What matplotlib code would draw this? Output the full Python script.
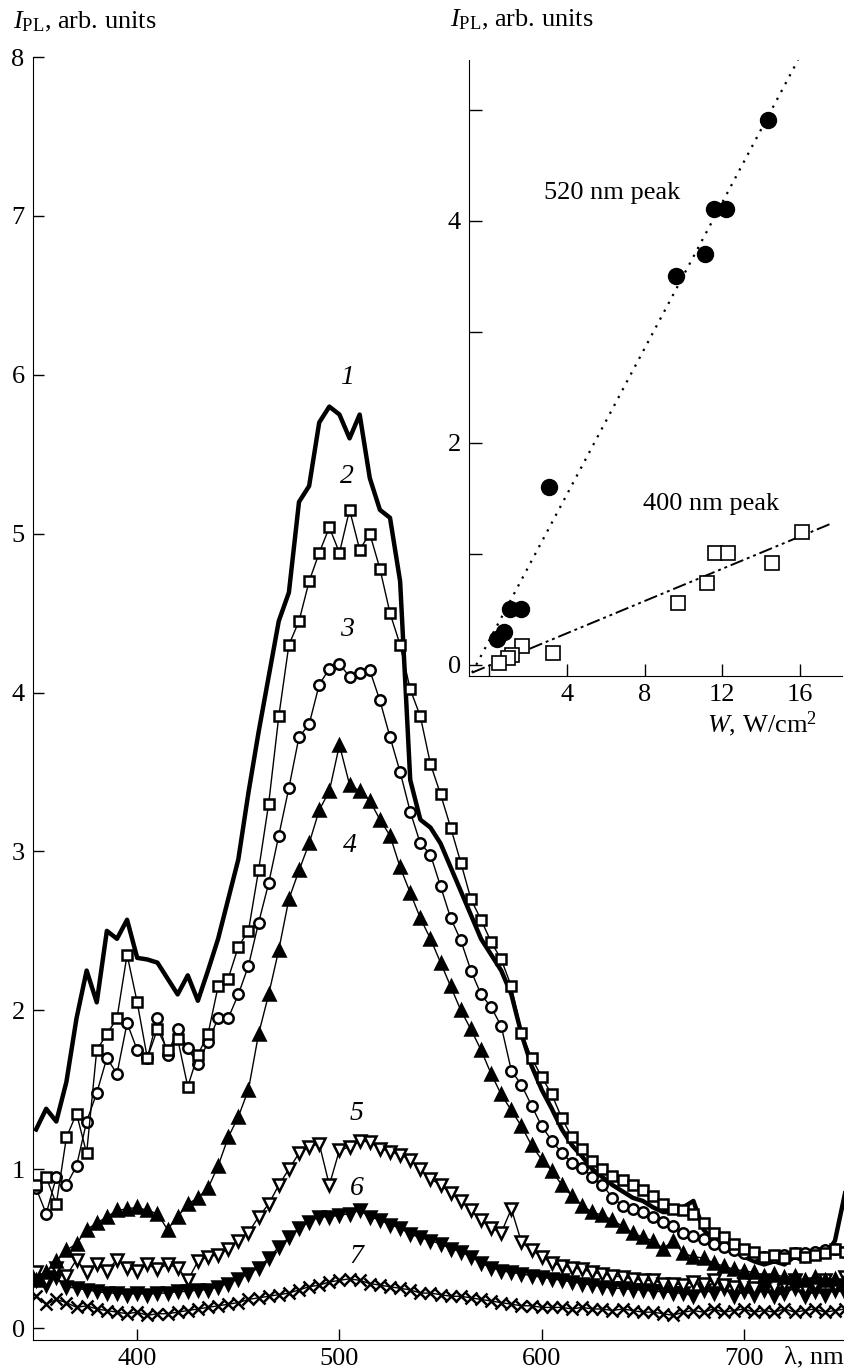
import numpy as np
from matplotlib import pyplot as plt

plt.rcParams['font.family'] = ['Liberation Serif', 'DejaVu Serif']
plt.rcParams['mathtext.fontset'] = 'custom'
plt.rcParams['mathtext.rm'] = 'Liberation Serif'
plt.rcParams['mathtext.it'] = 'Liberation Serif:italic'

# wavelength grid, nm (350 ... 750 every 5 nm)
wavelength = np.arange(350, 751, 5)

# PL spectra, arb. units
spec1 = [1.25, 1.38, 1.30, 1.55, 1.95, 2.25, 2.05, 2.50, 2.45, 2.57,
         2.33, 2.32, 2.30, 2.20, 2.10, 2.22, 2.06, 2.25, 2.45, 2.70,
         2.95, 3.37, 3.75, 4.10, 4.45, 4.63, 5.20, 5.30, 5.70, 5.80,
         5.75, 5.60, 5.75, 5.35, 5.15, 5.10, 4.70, 3.45, 3.20, 3.15,
         3.05, 2.90, 2.75, 2.60, 2.45, 2.35, 2.25, 2.10, 1.85, 1.65,
         1.50, 1.38, 1.25, 1.15, 1.08, 1.00, 0.95, 0.90, 0.86, 0.82,
         0.80, 0.76, 0.73, 0.73, 0.76, 0.80, 0.62, 0.55, 0.50, 0.48,
         0.45, 0.42, 0.40, 0.42, 0.40, 0.45, 0.42, 0.50, 0.45, 0.55,
         0.85]
spec2 = [0.90, 0.95, 0.78, 1.20, 1.35, 1.10, 1.75, 1.85, 1.95, 2.35,
         2.05, 1.70, 1.88, 1.75, 1.82, 1.52, 1.72, 1.85, 2.15, 2.20,
         2.40, 2.50, 2.88, 3.30, 3.85, 4.30, 4.45, 4.70, 4.88, 5.04,
         4.88, 5.15, 4.90, 5.00, 4.78, 4.50, 4.30, 4.02, 3.85, 3.55,
         3.36, 3.15, 2.93, 2.70, 2.57, 2.43, 2.32, 2.15, 1.86, 1.70,
         1.58, 1.47, 1.32, 1.20, 1.13, 1.05, 1.00, 0.96, 0.93, 0.90,
         0.87, 0.83, 0.78, 0.75, 0.74, 0.72, 0.66, 0.60, 0.57, 0.53,
         0.50, 0.48, 0.45, 0.46, 0.44, 0.47, 0.45, 0.46, 0.47, 0.50,
         0.48]
spec3 = [0.88, 0.72, 0.95, 0.90, 1.02, 1.30, 1.48, 1.70, 1.60, 1.92,
         1.75, 1.70, 1.95, 1.72, 1.88, 1.76, 1.66, 1.80, 1.95, 1.95,
         2.10, 2.28, 2.55, 2.80, 3.10, 3.40, 3.72, 3.80, 4.05, 4.15,
         4.18, 4.10, 4.12, 4.14, 3.95, 3.72, 3.50, 3.25, 3.05, 2.98,
         2.78, 2.58, 2.44, 2.25, 2.10, 2.02, 1.90, 1.62, 1.53, 1.40,
         1.27, 1.18, 1.10, 1.04, 1.01, 0.95, 0.90, 0.82, 0.77, 0.75,
         0.73, 0.70, 0.67, 0.64, 0.60, 0.58, 0.56, 0.53, 0.51, 0.49,
         0.47, 0.46, 0.45, 0.45, 0.46, 0.47, 0.47, 0.48, 0.49, 0.50,
         0.48]
spec4 = [0.30, 0.35, 0.42, 0.49, 0.53, 0.62, 0.66, 0.70, 0.74, 0.75,
         0.76, 0.74, 0.72, 0.62, 0.70, 0.78, 0.82, 0.88, 1.02, 1.20,
         1.33, 1.50, 1.85, 2.10, 2.38, 2.70, 2.88, 3.05, 3.26, 3.38,
         3.67, 3.42, 3.38, 3.32, 3.20, 3.10, 2.90, 2.74, 2.58, 2.45,
         2.30, 2.15, 2.00, 1.88, 1.75, 1.60, 1.47, 1.37, 1.27, 1.15,
         1.06, 0.99, 0.90, 0.83, 0.77, 0.73, 0.71, 0.68, 0.64, 0.60,
         0.57, 0.55, 0.50, 0.55, 0.47, 0.45, 0.44, 0.41, 0.39, 0.37,
         0.36, 0.35, 0.33, 0.34, 0.32, 0.33, 0.30, 0.32, 0.30, 0.31,
         0.30]
spec5 = [0.35, 0.30, 0.38, 0.33, 0.43, 0.35, 0.40, 0.36, 0.43, 0.38,
         0.36, 0.40, 0.37, 0.40, 0.38, 0.30, 0.42, 0.45, 0.46, 0.50,
         0.55, 0.60, 0.70, 0.78, 0.90, 1.00, 1.10, 1.14, 1.16, 0.90,
         1.12, 1.14, 1.18, 1.17, 1.13, 1.11, 1.09, 1.06, 1.00, 0.94,
         0.90, 0.85, 0.80, 0.74, 0.68, 0.63, 0.60, 0.75, 0.54, 0.49,
         0.45, 0.41, 0.39, 0.38, 0.37, 0.35, 0.34, 0.33, 0.32, 0.31,
         0.30, 0.30, 0.28, 0.28, 0.27, 0.29, 0.28, 0.30, 0.27, 0.26,
         0.28, 0.25, 0.30, 0.26, 0.28, 0.30, 0.25, 0.28, 0.30, 0.27,
         0.32]
spec6 = [0.30, 0.27, 0.32, 0.26, 0.25, 0.24, 0.23, 0.22, 0.22, 0.21,
         0.22, 0.21, 0.22, 0.22, 0.23, 0.23, 0.24, 0.24, 0.26, 0.28,
         0.31, 0.34, 0.38, 0.44, 0.51, 0.57, 0.63, 0.67, 0.70, 0.70,
         0.71, 0.72, 0.74, 0.70, 0.68, 0.65, 0.63, 0.59, 0.57, 0.55,
         0.53, 0.50, 0.48, 0.45, 0.41, 0.38, 0.36, 0.35, 0.34, 0.33,
         0.32, 0.31, 0.30, 0.29, 0.28, 0.27, 0.26, 0.25, 0.25, 0.24,
         0.24, 0.23, 0.23, 0.22, 0.22, 0.20, 0.24, 0.22, 0.25, 0.20,
         0.23, 0.21, 0.24, 0.20, 0.22, 0.25, 0.20, 0.23, 0.21, 0.24,
         0.22]
spec7 = [0.20, 0.15, 0.18, 0.16, 0.13, 0.14, 0.12, 0.11, 0.10, 0.09,
         0.10, 0.08, 0.09, 0.09, 0.10, 0.11, 0.12, 0.13, 0.14, 0.15,
         0.16, 0.18, 0.19, 0.20, 0.21, 0.22, 0.24, 0.26, 0.27, 0.29,
         0.30, 0.31, 0.30, 0.28, 0.27, 0.26, 0.25, 0.24, 0.22, 0.22,
         0.21, 0.20, 0.20, 0.19, 0.18, 0.17, 0.16, 0.15, 0.14, 0.14,
         0.13, 0.13, 0.13, 0.12, 0.13, 0.12, 0.12, 0.11, 0.12, 0.11,
         0.10, 0.10, 0.09, 0.08, 0.10, 0.11, 0.10, 0.12, 0.10, 0.11,
         0.12, 0.10, 0.11, 0.10, 0.12, 0.10, 0.11, 0.12, 0.10, 0.11,
         0.12]

# curve numbers and where they sit (nm, arb. units)
curve_names = ['1', '2', '3', '4', '5', '6', '7']
name_x = [503.5, 503.5, 503.5, 505.0, 508.5, 508.5, 508.5]
name_y = [5.98, 5.36, 4.40, 3.04, 1.35, 0.88, 0.45]

# inset: PL intensity vs excitation power density
w_520 = [14.35, 11.57, 12.19, 11.10, 9.60, 3.07, 1.07, 1.63, 0.76, 0.40]
i_520 = [4.91, 4.11, 4.11, 3.70, 3.50, 1.60, 0.50, 0.50, 0.30, 0.23]
w_400 = [16.10, 11.62, 12.30, 14.55, 11.20, 9.70, 3.28, 1.68, 1.17, 0.96, 0.50]
i_400 = [1.20, 1.01, 1.01, 0.92, 0.74, 0.56, 0.11, 0.17, 0.09, 0.06, 0.02]
fit_520_w = [-0.89, 15.9]
fit_520_i = [-0.07, 5.45]
fit_400_w = [-0.89, 17.7]
fit_400_i = [-0.07, 1.28]

fig = plt.figure(figsize=(8.45, 13.72), dpi=100)
ax = fig.add_axes([0.0391, 0.0233, 0.961, 0.9351])

ax.plot(wavelength, spec1, color='black', lw=3.2, zorder=3)

series = [
    (spec7, 'x', 'black', 9.0),
    (spec6, 'v', 'black', 9.0),
    (spec5, 'v', 'white', 9.0),
    (spec4, '^', 'black', 9.0),
    (spec3, 'o', 'white', 7.5),
    (spec2, 's', 'white', 7.5),
]
for vals, mk, face, size in series:
    ax.plot(wavelength, vals, color='black', lw=1.0, marker=mk, ms=size,
            mfc=face, mec='black', mew=1.8, zorder=4)

for name, x, y in zip(curve_names, name_x, name_y):
    ax.text(x, y, name, fontsize=20, style='italic', ha='center', va='center')

ax.set_xlim(348.5, 750)
ax.set_ylim(-0.0755, 8)
ax.set_xticks([400, 500, 600, 700])
ax.set_yticks(range(0, 9))
ax.spines['top'].set_visible(False)
ax.spines['right'].set_visible(False)
ax.tick_params(direction='in', length=8, width=1, labelsize=19, pad=6)

fig.text(13 / 845, 1 - 22 / 1372, r'$I_{\rm PL}$, arb. units', fontsize=19,
         ha='left', va='center')
fig.text(0.999, 1 - 1357 / 1372, 'λ, nm', fontsize=19, ha='right', va='center')

# inset
axin = fig.add_axes([0.555, 0.5073, 0.4414, 0.449])
axin.plot(fit_520_w, fit_520_i, color='black', lw=1.6, ls=(0, (1, 3)))
axin.plot(fit_400_w, fit_400_i, color='black', lw=1.4,
          ls=(0, (7, 2, 1.5, 2, 1.5, 2)))
axin.plot(w_520, i_520, ls='none', marker='o', ms=11.5, mfc='black',
          mec='black', zorder=3)
axin.plot(w_400, i_400, ls='none', marker='s', ms=10.5, mfc='white',
          mec='black', mew=1.2, zorder=3)
axin.text(2.8, 4.25, '520 nm peak', fontsize=19, va='center')
axin.text(7.9, 1.45, '400 nm peak', fontsize=19, va='center')

axin.set_xlim(-1.05, 18.16)
axin.set_ylim(-0.1, 5.45)
axin.set_xticks([0, 4, 8, 12, 16])
axin.set_xticklabels(['', '4', '8', '12', '16'])
axin.set_yticks([0, 1, 2, 3, 4, 5])
axin.set_yticklabels(['0', '', '2', '', '4', ''])
axin.spines['top'].set_visible(False)
axin.spines['right'].set_visible(False)
axin.patch.set_alpha(0)
axin.tick_params(direction='in', length=9, width=1, labelsize=19, pad=6)

fig.text(450 / 845, 1 - 20 / 1372, r'$I_{\rm PL}$, arb. units', fontsize=19,
         ha='left', va='center')
fig.text(817 / 845, 1 - 724 / 1372, r'$W$, W/cm$^2$', fontsize=19,
         ha='right', va='center')

plt.savefig('out.png', dpi=100)
